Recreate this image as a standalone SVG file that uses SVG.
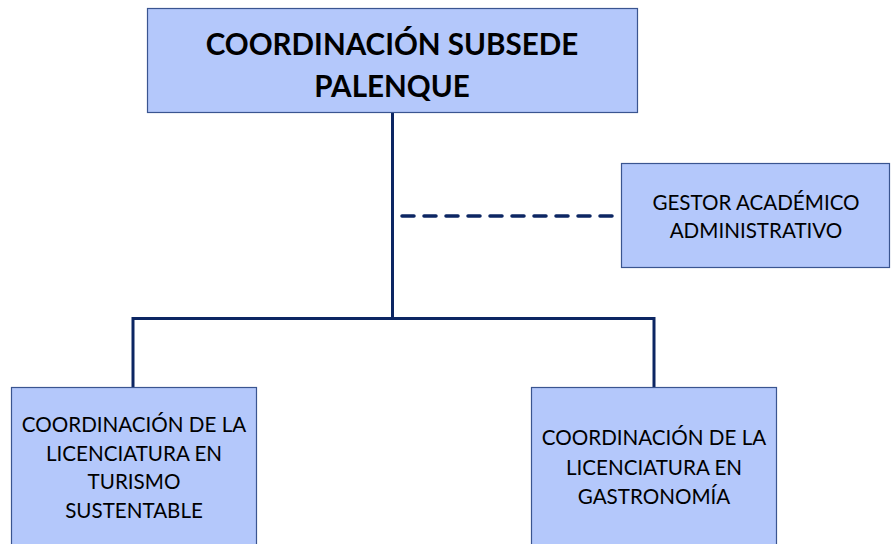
<svg xmlns="http://www.w3.org/2000/svg" width="891" height="544" viewBox="0 0 891 544">
<style>
.box{fill:#b4c8fb;stroke:#3a5590;stroke-width:1.2}
.t{font-family:Lato,"Open Sans","Liberation Sans",sans-serif;fill:#000;text-anchor:middle}
.title{font-size:29.6px;font-weight:bold}
.lbl{font-size:20.6px}
.ln{fill:none;stroke:#0c2663;stroke-width:3}
.dash{fill:none;stroke:#0c2663;stroke-width:3.5;stroke-dasharray:12 10;stroke-linecap:round}
</style>
<rect width="891" height="544" fill="#fff"/>
<g id="connectors">
<path class="ln" d="M392.5 113 V318.5 M133 318.5 H654 M133 317 V387 M654 317 V387"/>
<path class="dash" d="M402 216 H614"/>
</g>
<g id="top">
<rect class="box" x="147.5" y="8.5" width="490" height="104"/>
<text class="t title" x="392" y="55">COORDINACIÓN SUBSEDE</text>
<text class="t title" x="392" y="97">PALENQUE</text>
</g>
<g id="gestor">
<rect class="box" x="621.5" y="163.5" width="268" height="104"/>
<text class="t lbl" x="756" y="210">GESTOR ACADÉMICO</text>
<text class="t lbl" x="756" y="238">ADMINISTRATIVO</text>
</g>
<g id="turismo">
<rect class="box" x="11.5" y="387.5" width="245" height="170"/>
<text class="t lbl" x="134" y="432">COORDINACIÓN DE LA</text>
<text class="t lbl" x="134" y="461">LICENCIATURA EN</text>
<text class="t lbl" x="134" y="489">TURISMO</text>
<text class="t lbl" x="134" y="518">SUSTENTABLE</text>
</g>
<g id="gastronomia">
<rect class="box" x="531.5" y="387.5" width="245" height="170"/>
<text class="t lbl" x="654" y="445">COORDINACIÓN DE LA</text>
<text class="t lbl" x="654" y="475">LICENCIATURA EN</text>
<text class="t lbl" x="654" y="504">GASTRONOMÍA</text>
</g>
</svg>
